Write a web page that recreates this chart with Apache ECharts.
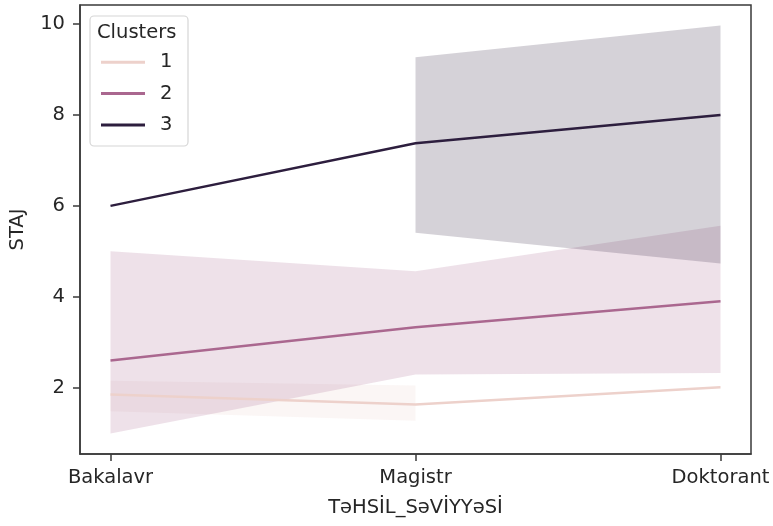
<!DOCTYPE html>
<html>
<head>
<meta charset="utf-8">
<script src="https://cdn.jsdelivr.net/npm/echarts@6/dist/echarts.min.js"></script>
<style>
  html, body { margin: 0; padding: 0; background: #fff; }
  #chart { width: 773px; height: 526px; }
</style>
</head>
<body>
<div id="chart"></div>
<script>
// Education levels on the x axis
const levels = ['Bakalavr', 'Magistr', 'Doktorant'];
const clusterNames = ['1', '2', '3'];

// Mean STAJ per education level, one array per cluster
const mean1 = [1.85, 1.63, 2.01];
const mean2 = [2.60, 3.33, 3.90];
const mean3 = [6.00, 7.38, 8.00];

// Confidence band limits (null where a level has a single observation)
const low1 = [1.48, 1.27, null];
const high1 = [2.15, 2.05, null];
const low2 = [0.99, 2.29, 2.32];
const high2 = [5.00, 4.56, 5.56];
const low3 = [null, 5.41, 4.73];
const high3 = [null, 9.27, 9.97];

const yTicks = [2, 4, 6, 8, 10];
const xTicks = [0, 1, 2];

const colors = ['#edd1cb', '#aa678f', '#2d1e3e'];
const bandFills = ['rgba(237,209,203,0.2)', 'rgba(170,103,143,0.2)', 'rgba(45,30,62,0.2)'];

const FONT = 'DejaVu Sans';
const FS = 19.5;
const TXT = '#262626';

function lineSeries(name, values, color) {
  return {
    name: name,
    type: 'line',
    data: values.map((v, i) => [i, v]),
    symbol: 'none',
    lineStyle: { width: 2.5, color: color },
    itemStyle: { color: color },
    z: 3,
    silent: true
  };
}

// Filled band between low and high limits, drawn as one polygon
function bandSeries(low, high, fill) {
  const idx = [0, 1, 2].filter(i => low[i] != null && high[i] != null);
  return {
    type: 'custom',
    data: idx.map(i => [i, low[i], high[i]]),
    encode: { x: 0, y: [1, 2] },
    silent: true,
    z: 2,
    renderItem: function (params, api) {
      if (params.dataIndex !== 0) return;
      const top = idx.map(i => api.coord([i, high[i]]));
      const bottom = idx.slice().reverse().map(i => api.coord([i, low[i]]));
      return {
        type: 'polygon',
        shape: { points: top.concat(bottom) },
        style: { fill: fill, stroke: null }
      };
    }
  };
}

const chart = echarts.init(document.getElementById('chart'), null, { renderer: 'canvas' });

chart.setOption({
  animation: false,
  backgroundColor: '#ffffff',
  textStyle: { fontFamily: FONT },
  grid: {
    left: 79, right: 22, top: 5, bottom: 72,
    show: true, borderColor: '#3a3a3a', borderWidth: 1.5,
    containLabel: false
  },
  xAxis: {
    type: 'value',
    min: -0.1, max: 2.1,
    name: 'TəHSİL_SəVİYYəSİ',
    nameLocation: 'middle',
    nameGap: 44,
    nameTextStyle: { fontFamily: FONT, fontSize: FS, color: TXT },
    axisLine: { show: true, onZero: false, lineStyle: { color: '#3a3a3a', width: 1.5 } },
    axisTick: { show: true, customValues: xTicks, length: 7, lineStyle: { color: '#3a3a3a', width: 1.5 } },
    axisLabel: {
      customValues: xTicks,
      formatter: v => levels[Math.round(v)],
      margin: 14,
      fontFamily: FONT, fontSize: FS, color: TXT
    },
    splitLine: { show: false }
  },
  yAxis: {
    type: 'value',
    min: 0.54, max: 10.42,
    name: 'STAJ',
    nameLocation: 'middle',
    nameGap: 52,
    nameRotate: 90,
    nameTextStyle: { fontFamily: FONT, fontSize: FS, color: TXT },
    axisLine: { show: true, onZero: false, lineStyle: { color: '#3a3a3a', width: 1.5 } },
    axisTick: { show: true, customValues: yTicks, length: 7, lineStyle: { color: '#3a3a3a', width: 1.5 } },
    axisLabel: {
      customValues: yTicks,
      margin: 15,
      fontFamily: FONT, fontSize: FS, color: TXT
    },
    splitLine: { show: false }
  },
  legend: {
    orient: 'vertical',
    left: 101, top: 52.3,
    padding: 0,
    z: 120,
    zlevel: 0,
    itemWidth: 44, itemHeight: 3,
    itemGap: 11.3,
    icon: 'rect',
    data: clusterNames,
    textStyle: { fontFamily: FONT, fontSize: FS, color: TXT, lineHeight: 20, padding: [0, 0, 0, 10] },
    selectedMode: false
  },
  graphic: [
    {
      type: 'rect',
      z: 100,
      shape: { x: 90, y: 16, width: 98, height: 130, r: 4 },
      style: { fill: 'rgba(255,255,255,0.8)', stroke: '#d6d6d6', lineWidth: 1.2 }
    },
    {
      type: 'text',
      z: 101,
      x: 97, y: 33,
      style: { text: 'Clusters', font: FS + 'px "' + FONT + '"', fill: TXT, textVerticalAlign: 'middle' }
    }
  ],
  series: [
    lineSeries(clusterNames[0], mean1, colors[0]),
    bandSeries(low1, high1, bandFills[0]),
    lineSeries(clusterNames[1], mean2, colors[1]),
    bandSeries(low2, high2, bandFills[1]),
    lineSeries(clusterNames[2], mean3, colors[2]),
    bandSeries(low3, high3, bandFills[2])
  ]
});
</script>
</body>
</html>
